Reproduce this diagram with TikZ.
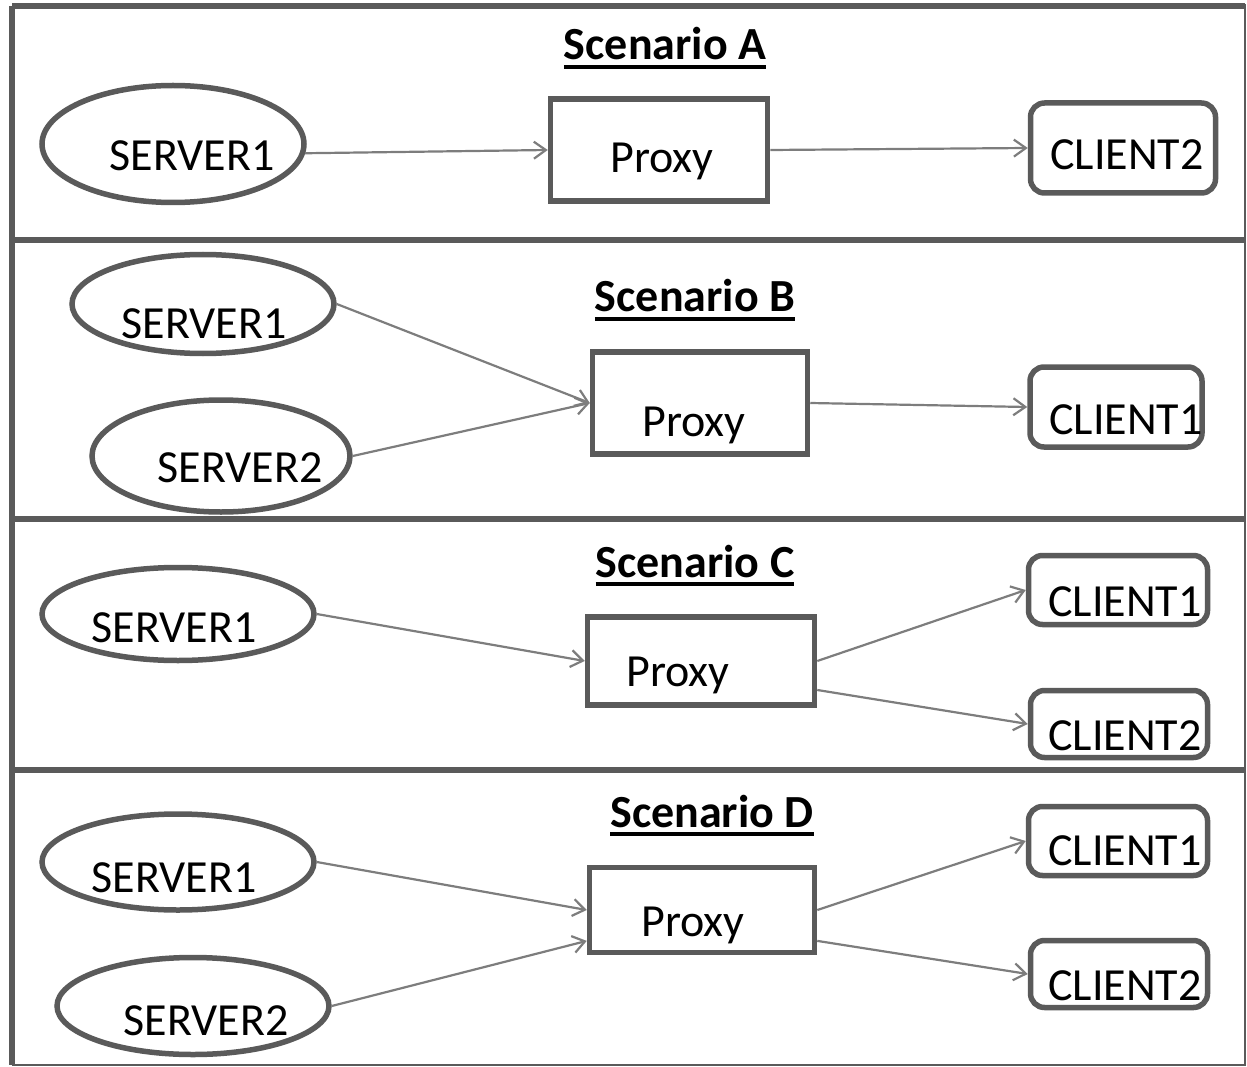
\documentclass[tikz,border=0pt]{standalone}
\usepackage{fontspec}
\setmainfont{Carlito}
\usepackage{tikz}
\usetikzlibrary{shapes.geometric,arrows.meta}
\definecolor{boxgray}{RGB}{90,90,90}
\definecolor{linkgray}{RGB}{125,125,125}
\newcommand{\bigfont}[0]{\fontsize{46}{50}\selectfont}
\newcommand{\scentitle}[1]{\sbox0{\bfseries #1}\rlap{\usebox0}\rule[-9pt]{\wd0}{4pt}}

\begin{document}
\begin{tikzpicture}[x=1pt, y=-1pt]
  \tikzset{server/.style={ellipse, draw=boxgray, line width=5.5pt, inner sep=0pt},
           proxybox/.style={rectangle, draw=boxgray, line width=5.5pt, inner sep=0pt},
           clientbox/.style={rectangle, rounded corners=14pt, draw=boxgray, line width=5.5pt, inner sep=0pt},
           lbl/.style={font=\bigfont, inner sep=0pt},
           title/.style={font=\bigfont, inner sep=0pt, anchor=base},
           frame/.style={draw=boxgray, line width=5.5pt},
           link/.style={draw=linkgray, line width=2.2pt, -{Straight Barb[length=12pt,width=17pt,line width=2.2pt]}}}
  \useasboundingbox (0,0) rectangle (1247,1067);
  % frame and dividers
  \draw[frame] (12,6) -- (1245,6);
  \draw[frame] (12,6) -- (12,1065);
  \draw[frame] (12,240) -- (1245,240);
  \draw[frame] (12,519) -- (1245,519);
  \draw[frame] (12,770) -- (1245,770);
  \draw[draw=boxgray, line width=1.5pt] (1245,4) -- (1245,1065) -- (12,1065);

  % Scenario A
  \node[title] (a-title) at (665,60) {\scentitle{Scenario A}};
  \node[server, minimum width=262, minimum height=117,
        label={[lbl,xshift=19pt,yshift=-12pt]center:SERVER1}] (a-s1) at (173,144) {};
  \node[proxybox, minimum width=217, minimum height=102,
        label={[lbl,xshift=3pt,yshift=-11pt]center:Proxy}] (a-px) at (659,150) {};
  \node[clientbox, minimum width=185, minimum height=90,
        label={[lbl,xshift=4pt,yshift=-7pt]center:CLIENT2}] (a-c2) at (1123,148) {};
  \draw[link] (a-s1.-4) -- (a-px.west);
  \draw[link] (a-px.east) -- (a-c2.west);

  % Scenario B
  \node[title] (b-title) at (695,312) {\scentitle{Scenario B}};
  \node[server, minimum width=262, minimum height=99,
        label={[lbl,xshift=1pt,yshift=-20pt]center:SERVER1}] (b-s1) at (203,304) {};
  \node[server, minimum width=258, minimum height=112,
        label={[lbl,xshift=19pt,yshift=-12pt]center:SERVER2}] (b-s2) at (221,456) {};
  \node[proxybox, minimum width=215, minimum height=102,
        label={[lbl,xshift=-6pt,yshift=-22pt]center:Proxy}] (b-px) at (700,403) {};
  \node[clientbox, minimum width=172, minimum height=80,
        label={[lbl,xshift=10pt,yshift=-13pt]center:CLIENT1}] (b-c1) at (1116,407) {};
  \draw[link] (b-s1.east) -- (b-px.west);
  \draw[link] (b-s2.east) -- (b-px.west);
  \draw[link] (b-px.east) -- (b-c1.west);

  % Scenario C
  \node[title] (c-title) at (695,577) {\scentitle{Scenario C}};
  \node[server, minimum width=272, minimum height=93,
        label={[lbl,xshift=-4pt,yshift=-14pt]center:SERVER1}] (c-s1) at (178,614) {};
  \node[proxybox, minimum width=227, minimum height=88,
        label={[lbl,xshift=-23pt,yshift=-14pt]center:Proxy}] (c-px) at (701,661) {};
  \node[clientbox, minimum width=179, minimum height=69,
        label={[lbl,xshift=7pt,yshift=-12pt]center:CLIENT1}] (c-c1) at (1118,590) {};
  \node[clientbox, minimum width=177, minimum height=67,
        label={[lbl,xshift=6pt,yshift=-12pt]center:CLIENT2}] (c-c2) at (1119,724) {};
  \draw[link] (c-s1.east) -- (c-px.west);
  \draw[link] (c-px.east) -- (c-c1.west);
  \draw[link] (c-px.-14) -- (c-c2.west);

  % Scenario D
  \node[title] (d-title) at (712,827) {\scentitle{Scenario D}};
  \node[server, minimum width=272, minimum height=96,
        label={[lbl,xshift=-4pt,yshift=-16pt]center:SERVER1}] (d-s1) at (178,862) {};
  \node[server, minimum width=272, minimum height=97,
        label={[lbl,xshift=13pt,yshift=-15pt]center:SERVER2}] (d-s2) at (193,1006) {};
  \node[proxybox, minimum width=225, minimum height=85,
        label={[lbl,xshift=-9pt,yshift=-15pt]center:Proxy}] (d-px) at (702,910) {};
  \node[clientbox, minimum width=179, minimum height=69,
        label={[lbl,xshift=7pt,yshift=-10pt]center:CLIENT1}] (d-c1) at (1118,841) {};
  \node[clientbox, minimum width=177, minimum height=67,
        label={[lbl,xshift=6pt,yshift=-12pt]center:CLIENT2}] (d-c2) at (1119,974) {};
  \draw[link] (d-s1.east) -- (d-px.west);
  \draw[link] (d-s2.east) -- (d-px.195);
  \draw[link] (d-px.east) -- (d-c1.west);
  \draw[link] (d-px.-15) -- (d-c2.west);
\end{tikzpicture}
\end{document}
